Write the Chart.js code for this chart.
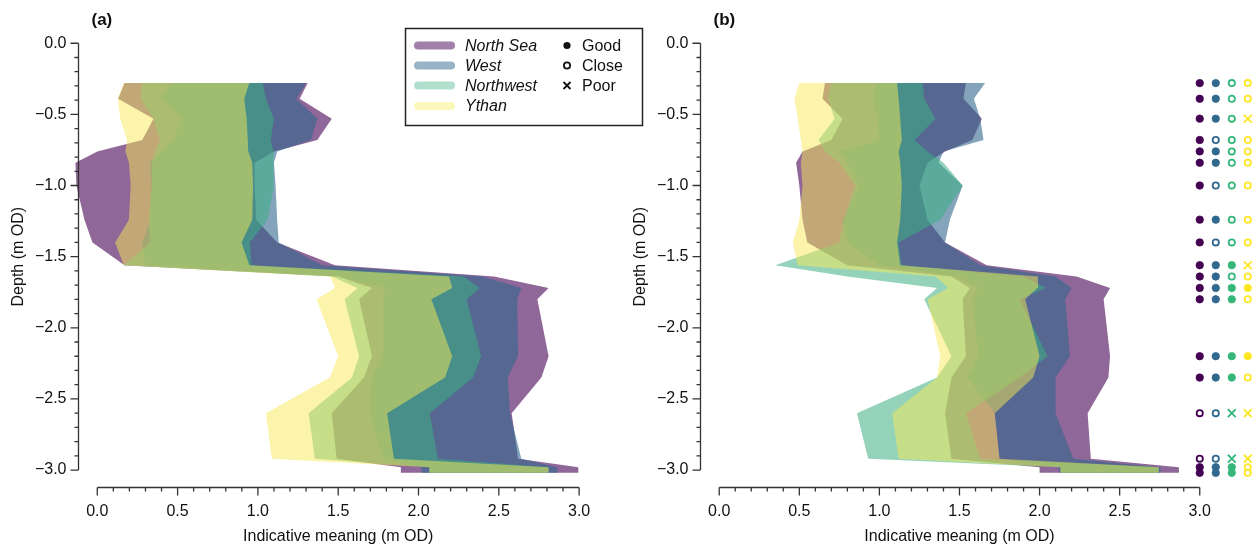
<!DOCTYPE html>
<html lang="en">
<head>
<meta charset="UTF-8">
<title>Indicative meaning against depth</title>
<script src="https://cdn.jsdelivr.net/npm/chart.js@4"></script>
<style>
    body { margin: 0; background: #fff; }
    #wrap { position: relative; width: 1260px; height: 550px; overflow: hidden; }
    #chartA { position: absolute; left: 0; top: 0; }
    #chartB { position: absolute; left: 630px; top: 0; z-index: 1; }
</style>
</head>
<body>
<div id="wrap">
    <canvas id="chartA" width="660" height="550"></canvas>
    <canvas id="chartB" width="630" height="550"></canvas>
</div>
<script>
    // sample depths (m OD), shared by both panels
    const depths = [-0.28, -0.39, -0.53, -0.68, -0.76, -0.84, -1.00, -1.24, -1.40, -1.56,
                    -1.64, -1.72, -1.80, -2.20, -2.35, -2.60, -2.92, -2.98, -3.02];

    const regions = ['North Sea', 'West', 'Northwest', 'Ythan'];
    const colours = ['#440154', '#31688e', '#35b779', '#fde725'];
    const fillColours = ['#440154', '#31688e', '#3caf82', '#f8ea55'];
    const fillAlpha = [0.6, 0.6, 0.55, 0.5];

    // panel (a): lower / upper indicative meaning at each depth
    const nsLowA    = [0.17, 0.13, 0.35, 0.28, 0.00, -0.136, -0.13, -0.08, -0.03, 0.17, 1.50, 1.71, 1.63, 1.71, 1.66, 1.46, 1.49, 1.89, 1.89];
    const nsHighA   = [1.31, 1.26, 1.46, 1.37, 1.10, 0.98, 0.98, 0.99, 1.12, 1.48, 2.47, 2.81, 2.74, 2.81, 2.765, 2.58, 2.62, 2.995, 2.995];
    const westLowA  = [0.46, 0.40, 0.525, 0.476, 0.40, 0.33, 0.336, 0.33, 0.28, 0.30, 1.50, 1.79, 1.78, 1.78, 1.71, 1.70, 1.78, 2.02, 2.02];
    const westHighA = [1.30, 1.24, 1.37, 1.33, 1.12, 1.10, 1.11, 1.12, 1.13, 1.40, 2.40, 2.64, 2.615, 2.62, 2.555, 2.57, 2.64, 2.865, 2.865];
    const nwLowA    = [0.28, 0.27, 0.35, 0.39, 0.36, 0.34, 0.34, 0.32, 0.33, 0.165, 1.46, 1.62, 1.54, 1.63, 1.586, 1.316, 1.355, 2.067, 2.067];
    const nwHighA   = [1.03, 1.05, 1.10, 1.08, 1.095, 1.10, 1.10, 1.06, 0.95, 0.96, 2.28, 2.38, 2.30, 2.39, 2.34, 2.07, 2.12, 2.81, 2.81];
    const ythLowA   = [0.165, 0.128, 0.143, 0.186, 0.175, 0.197, 0.208, 0.197, 0.111, 0.165, 1.45, 1.48, 1.365, 1.50, 1.447, 1.05, 1.087, 2.067, 2.067];
    const ythHighA  = [0.947, 0.915, 0.93, 0.937, 0.94, 0.965, 0.97, 0.965, 0.898, 0.947, 2.19, 2.21, 2.08, 2.21, 2.165, 1.805, 1.847, 2.81, 2.81];

    // panel (b)
    const nsLowB    = [0.66, 0.645, 0.77, 0.70, 0.52, 0.48, 0.50, 0.52, 0.55, 0.80, 1.45, 1.565, 1.52, 1.54, 1.45, 1.41, 1.45, 2.0, 2.0];
    const nsHighB   = [1.54, 1.525, 1.64, 1.58, 1.41, 1.30, 1.25, 1.30, 1.41, 1.67, 2.23, 2.44, 2.40, 2.44, 2.43, 2.30, 2.32, 2.87, 2.87];
    const westLowB  = [0.98, 0.96, 0.99, 1.0, 0.75, 0.80, 0.87, 0.77, 0.80, 1.0, 1.5, 1.62, 1.58, 1.62, 1.55, 1.72, 1.75, 2.12, 2.12];
    const westHighB = [1.66, 1.59, 1.63, 1.65, 1.40, 1.37, 1.52, 1.44, 1.41, 1.63, 2.10, 2.20, 2.16, 2.19, 2.10, 2.10, 2.21, 2.755, 2.755];
    const nwLowB    = [0.70, 0.68, 0.72, 0.62, 0.66, 0.75, 0.85, 0.78, 0.75, 0.35, 0.80, 1.36, 1.28, 1.45, 1.36, 0.86, 0.93, 2.13, 2.13];
    const nwHighB   = [1.27, 1.28, 1.35, 1.22, 1.30, 1.40, 1.52, 1.38, 1.12, 1.14, 1.90, 2.04, 1.875, 2.05, 1.875, 1.54, 1.63, 2.745, 2.745];
    const ythLowB   = [0.50, 0.47, 0.49, 0.51, 0.52, 0.51, 0.52, 0.50, 0.46, 0.49, 1.35, 1.43, 1.30, 1.38, 1.36, 1.08, 1.12, 2.13, 2.13];
    const ythHighB  = [1.11, 1.12, 1.13, 1.14, 1.12, 1.13, 1.14, 1.13, 1.11, 1.13, 1.99, 1.986, 1.91, 2.0, 1.96, 1.72, 1.75, 2.745, 2.745];

    // fit quality per depth in panel (b): G = good, C = close, P = poor
    const fitNS    = ['G','G','G','G','G','G','G','G','G','G','G','G','G','G','G','C','C','G','G'];
    const fitWest  = ['G','G','G','C','G','G','C','G','C','G','G','G','G','G','G','C','C','G','G'];
    const fitNW    = ['C','C','C','C','C','C','C','C','C','G','C','G','G','G','G','P','P','G','G'];
    const fitYthan = ['C','C','P','C','C','C','C','C','C','P','C','G','C','G','C','P','P','C','C'];
    const markerX  = [3.0, 3.1, 3.2, 3.3];
    const fitLabels = ['Good', 'Close', 'Poor'];

    const xTicks = [0, 0.5, 1.0, 1.5, 2.0, 2.5, 3.0];
    const yTicks = [0, -0.5, -1.0, -1.5, -2.0, -2.5, -3.0];

    const font = "'Liberation Sans', Arial, sans-serif";
    const ink = '#333';

    function rgba(hex, a) {
        const n = parseInt(hex.slice(1), 16);
        return 'rgba(' + (n >> 16) + ',' + ((n >> 8) & 255) + ',' + (n & 255) + ',' + a + ')';
    }

    // closed outline: down the low side, back up the high side
    function outline(low, high) {
        const pts = low.map((x, i) => ({x: x, y: depths[i]}));
        for (let i = high.length - 1; i >= 0; i--) pts.push({x: high[i], y: depths[i]});
        return pts;
    }

    function fmt(v) {
        return (v < 0 ? '\u2212' : '') + Math.abs(v).toFixed(1);
    }

    function bandSets(pairs) {
        return pairs.map((p, k) => ({
            label: regions[k],
            data: outline(p[0], p[1]),
            fill: 'shape',
            backgroundColor: rgba(fillColours[k], fillAlpha[k]),
            borderColor: 'rgba(0,0,0,0)',
            borderWidth: 0,
            pointRadius: 0,
            tension: 0,
            order: 10 - k
        }));
    }

    function markerSets() {
        const fits = [fitNS, fitWest, fitNW, fitYthan];
        return fits.map((fit, k) => ({
            label: regions[k] + ' fit',
            data: depths.map(d => ({x: markerX[k], y: d})),
            showLine: false,
            clip: false,
            order: 0,
            pointStyle: c => fit[c.dataIndex] === 'P' ? 'crossRot' : 'circle',
            pointRadius: c => fit[c.dataIndex] === 'P' ? 5.5 : (fit[c.dataIndex] === 'G' ? 3.7 : 3.1),
            pointBorderWidth: c => fit[c.dataIndex] === 'G' ? 0.8 : 1.8,
            pointBackgroundColor: c => fit[c.dataIndex] === 'G' ? colours[k] : '#fff',
            pointBorderColor: colours[k]
        }));
    }

    function drawFrame(chart, tag) {
        const ctx = chart.ctx;
        const xs = chart.scales.x, ys = chart.scales.y;
        const sx = Math.round(xs.getPixelForValue(-0.123)) + 0.5;
        const sy = Math.round(chart.chartArea.bottom) + 0.5;
        ctx.save();
        ctx.strokeStyle = ink;
        ctx.lineWidth = 1.3;
        ctx.beginPath();
        ctx.moveTo(sx, ys.getPixelForValue(0));
        ctx.lineTo(sx, ys.getPixelForValue(-3));
        for (let i = 0; i <= 30; i++) {
            const y = ys.getPixelForValue(-i / 10);
            ctx.moveTo(sx - (i % 5 === 0 ? 8 : 4), y);
            ctx.lineTo(sx, y);
        }
        ctx.moveTo(xs.getPixelForValue(0), sy);
        ctx.lineTo(xs.getPixelForValue(3), sy);
        for (let i = 0; i <= 30; i++) {
            const x = xs.getPixelForValue(i / 10);
            ctx.moveTo(x, sy);
            ctx.lineTo(x, sy + (i % 5 === 0 ? 8 : 4));
        }
        ctx.stroke();

        ctx.fillStyle = '#111';
        ctx.font = '16px ' + font;
        ctx.textAlign = 'right';
        ctx.textBaseline = 'middle';
        yTicks.forEach(v => ctx.fillText(fmt(v), sx - 12, ys.getPixelForValue(v)));
        ctx.textAlign = 'center';
        xTicks.forEach(v => ctx.fillText(fmt(v), xs.getPixelForValue(v), sy + 24));
        ctx.fillText('Indicative meaning (m OD)', xs.getPixelForValue(1.5), sy + 49);

        ctx.save();
        ctx.translate(sx - 60, ys.getPixelForValue(-1.5));
        ctx.rotate(-Math.PI / 2);
        ctx.fillText('Depth (m OD)', 0, 0);
        ctx.restore();

        ctx.font = 'bold 17px ' + font;
        ctx.textAlign = 'left';
        ctx.fillText(tag, sx + 13, 20);
        ctx.restore();
    }

    function drawKey(chart) {
        const ctx = chart.ctx;
        ctx.save();
        ctx.strokeStyle = '#222';
        ctx.lineWidth = 1.5;
        ctx.strokeRect(405.5, 28.5, 237, 97);
        const rows = [45.5, 65.5, 85.5, 106];
        ctx.lineCap = 'round';
        ctx.lineWidth = 8;
        regions.forEach((r, k) => {
            ctx.strokeStyle = rgba(fillColours[k], k < 2 ? 0.5 : 0.4);
            ctx.beginPath();
            ctx.moveTo(418, rows[k]);
            ctx.lineTo(451, rows[k]);
            ctx.stroke();
        });
        ctx.fillStyle = '#111';
        ctx.textBaseline = 'middle';
        ctx.font = 'italic 16px ' + font;
        regions.forEach((r, k) => ctx.fillText(r, 465, rows[k] + 1));
        ctx.font = '16px ' + font;
        fitLabels.forEach((t, k) => ctx.fillText(t, 582, rows[k] + 1));
        // key markers
        ctx.lineCap = 'butt';
        ctx.strokeStyle = '#111';
        ctx.beginPath();
        ctx.arc(567, rows[0], 3.6, 0, Math.PI * 2);
        ctx.fill();
        ctx.lineWidth = 1.8;
        ctx.beginPath();
        ctx.arc(567, rows[1], 3.1, 0, Math.PI * 2);
        ctx.stroke();
        ctx.beginPath();
        ctx.moveTo(563.5, rows[2] - 3.5); ctx.lineTo(570.5, rows[2] + 3.5);
        ctx.moveTo(570.5, rows[2] - 3.5); ctx.lineTo(563.5, rows[2] + 3.5);
        ctx.stroke();
        ctx.restore();
    }

    function makePanel(id, tag, pairs, withMarkers, xMin, xMax, pad) {
        let sets = bandSets(pairs);
        if (withMarkers) sets = sets.concat(markerSets());
        return new Chart(document.getElementById(id), {
            type: 'line',
            data: {datasets: sets},
            options: {
                responsive: false,
                animation: false,
                events: [],
                layout: {padding: pad},
                scales: {
                    x: {type: 'linear', min: xMin, max: xMax, display: false},
                    y: {type: 'linear', min: -3.12, max: 0.03, display: false}
                },
                plugins: {legend: {display: false}, tooltip: {enabled: false}}
            },
            plugins: [{
                id: 'frame',
                afterDraw(chart) {
                    drawFrame(chart, tag);
                    if (id === 'chartA') drawKey(chart);
                }
            }]
        });
    }

    makePanel('chartA', '(a)',
        [[nsLowA, nsHighA], [westLowA, westHighA], [nwLowA, nwHighA], [ythLowA, ythHighA]],
        false, -0.14, 3.30, {left: 74.8, right: 32.7, top: 39, bottom: 62.9});

    makePanel('chartB', '(b)',
        [[nsLowB, nsHighB], [westLowB, westHighB], [nwLowB, nwHighB], [ythLowB, ythHighB]],
        true, -0.13, 3.34, {left: 68.4, right: 2.6, top: 39, bottom: 62.9});
</script>
</body>
</html>
